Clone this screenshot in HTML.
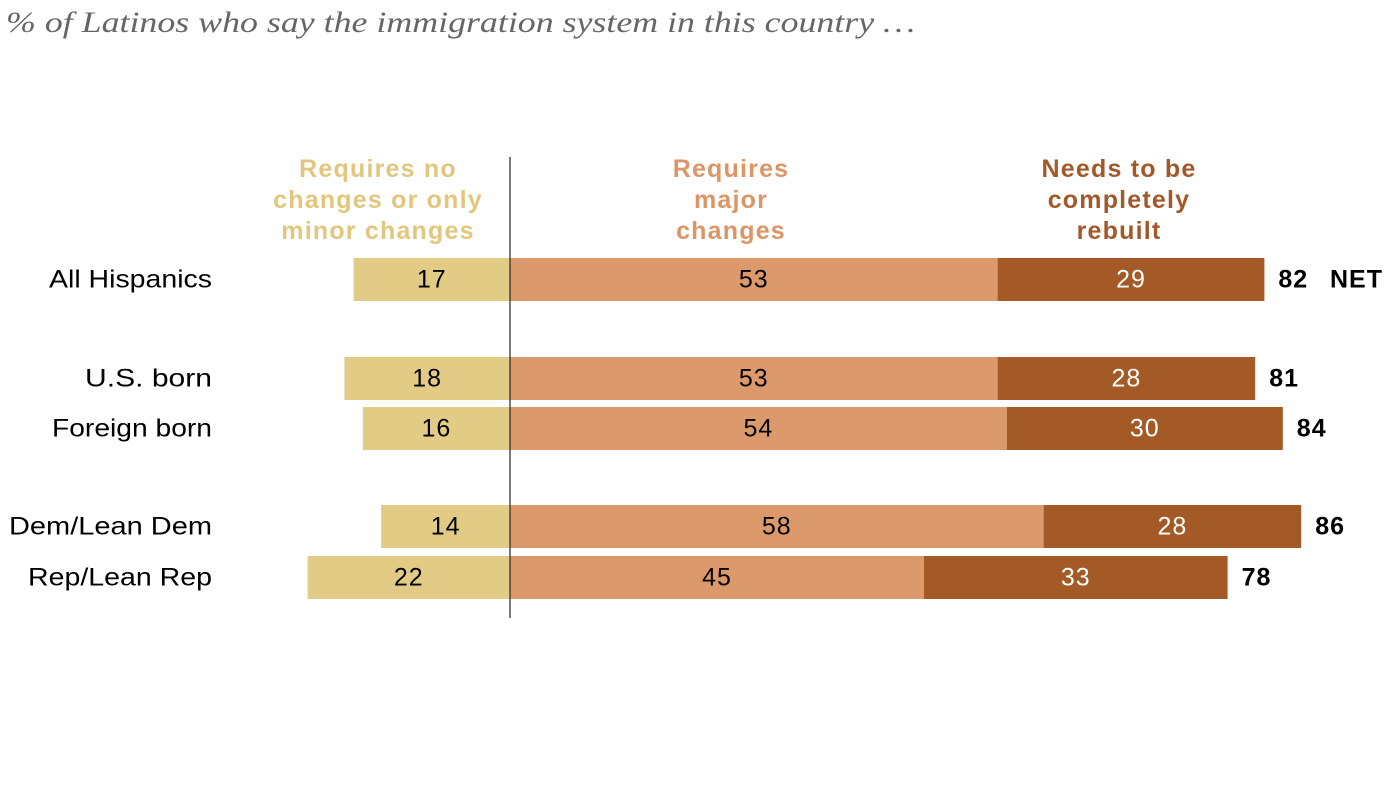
<!DOCTYPE html>
<html><head><meta charset="utf-8"><style>
body{margin:0;background:#fff;width:1400px;height:789px;overflow:hidden}
svg text{font-family:"Liberation Sans",sans-serif}
</style></head><body>
<svg width="1400" height="789">
<text x="6" y="32" font-style="italic" font-size="30" fill="#666" textLength="909" lengthAdjust="spacingAndGlyphs" style="font-family:'Liberation Serif',serif">% of Latinos who say the immigration system in this country …</text>
<g id="headers" font-weight="bold" font-size="25" text-anchor="middle" letter-spacing="1.2">
<text x="378" y="177" fill="#E2C67D"><tspan x="378">Requires no</tspan><tspan x="378" dy="31">changes or only</tspan><tspan x="378" dy="31">minor changes</tspan></text>
<text x="731" y="177" fill="#DC9566"><tspan x="731">Requires</tspan><tspan x="731" dy="31">major</tspan><tspan x="731" dy="31">changes</tspan></text>
<text x="1119" y="177" fill="#A3582A"><tspan x="1119">Needs to be</tspan><tspan x="1119" dy="31">completely</tspan><tspan x="1119" dy="31">rebuilt</tspan></text>
</g>
<g id="bars"></g>
<line x1="510" y1="157" x2="510" y2="618" stroke="#333" stroke-width="1.3"/>
</svg>
<script>
const categories=["All Hispanics","U.S. born","Foreign born","Dem/Lean Dem","Rep/Lean Rep"];
const noChanges=[17,18,16,14,22];
const majorChanges=[53,53,54,58,45];
const rebuilt=[29,28,30,28,33];
const netValues=[82,81,84,86,78];
const labelWidths=[163,127,160,203,184];
const rowTops=[258,357,407,505,556];
const X0=510,K=9.2,H=43;
const x=v=>X0+v*K;
const g=document.getElementById('bars');
const NS="http://www.w3.org/2000/svg";
function mk(tag,attrs,txt){const e=document.createElementNS(NS,tag);for(const k in attrs)e.setAttribute(k,attrs[k]);if(txt!==undefined)e.textContent=txt;g.appendChild(e);return e;}
categories.forEach((c,i)=>{
 const y=rowTops[i],cy=y+H/2+8;
 let t=mk('text',{x:212,y:cy,'text-anchor':'end','font-size':25,fill:'#000',textLength:labelWidths[i],lengthAdjust:'spacingAndGlyphs'},c);
 
 
 let r=mk('rect',{x:x(-noChanges[i]),y:y,width:noChanges[i]*K,height:H,fill:'#E2CB85'});
 
 
 t=mk('text',{x:x(-noChanges[i]/2),y:cy,'text-anchor':'middle','font-size':25,'letter-spacing':1,fill:'#000'},noChanges[i]);
 
 
 r=mk('rect',{x:x(0),y:y,width:majorChanges[i]*K,height:H,fill:'#DC996B'});
 
 
 t=mk('text',{x:x(majorChanges[i]/2),y:cy,'text-anchor':'middle','font-size':25,'letter-spacing':1,fill:'#000'},majorChanges[i]);
 
 
 r=mk('rect',{x:x(majorChanges[i]),y:y,width:rebuilt[i]*K,height:H,fill:'#A35A26'});
 
 
 t=mk('text',{x:x(majorChanges[i]+rebuilt[i]/2),y:cy,'text-anchor':'middle','font-size':25,'letter-spacing':1,fill:'#fff'},rebuilt[i]);
 
 
 t=mk('text',{x:x(majorChanges[i]+rebuilt[i])+14,y:cy,'font-size':25,'font-weight':'bold','letter-spacing':1,fill:'#000'},netValues[i]);
 
 
 if(i===0){
  t=mk('text',{x:1330,y:cy,'font-size':25,'font-weight':'bold','letter-spacing':1,fill:'#000'},'NET');
  
  
 }
});
</script>
</body></html>
